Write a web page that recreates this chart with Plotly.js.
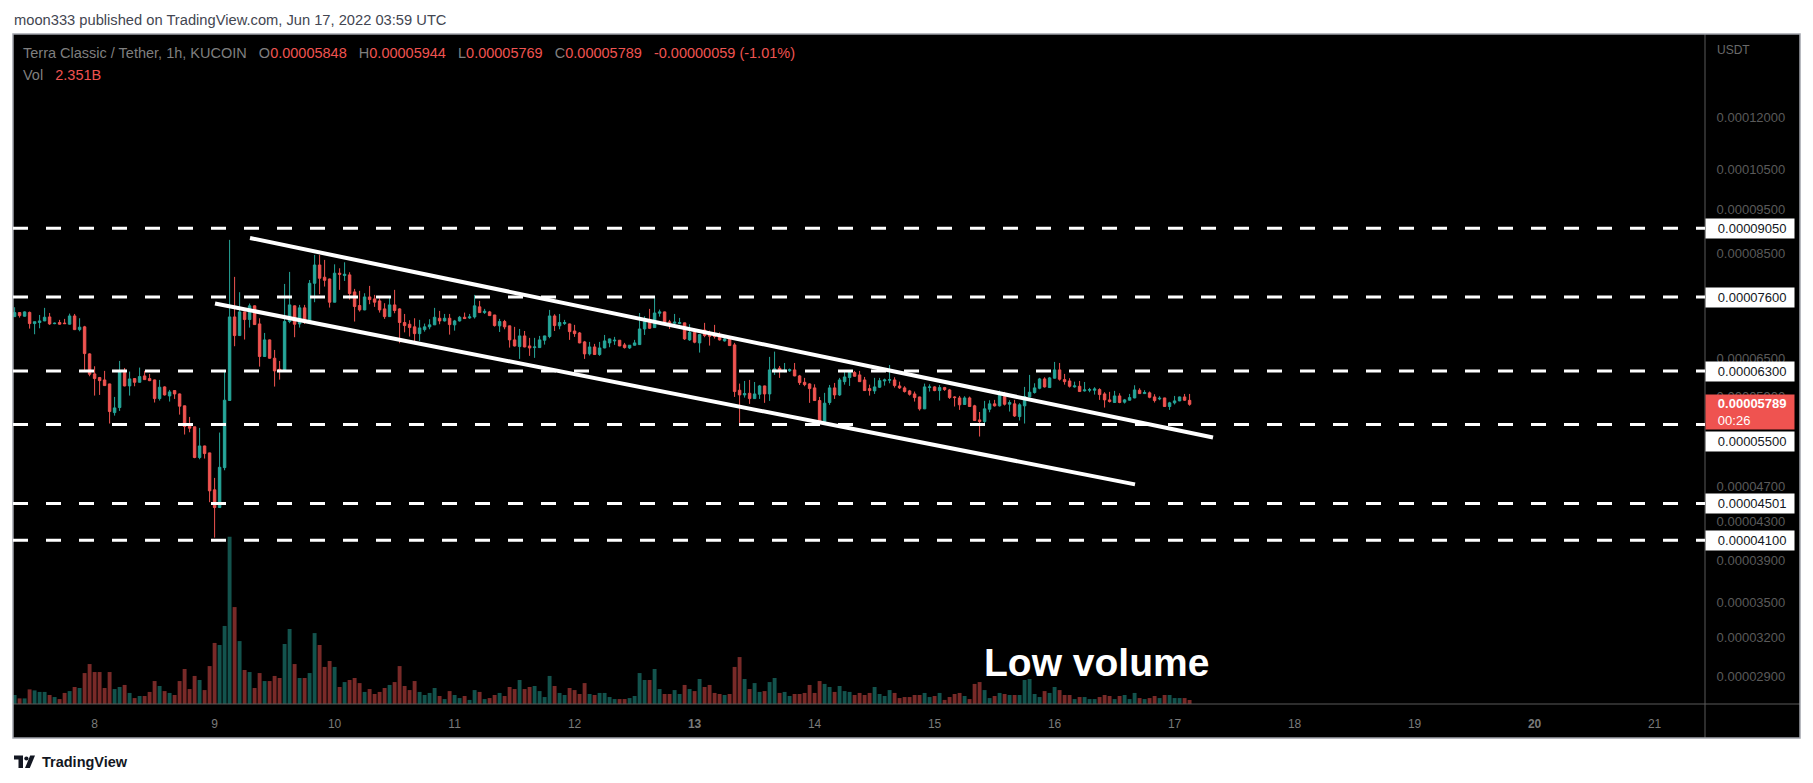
<!DOCTYPE html>
<html>
<head>
<meta charset="utf-8">
<script src="https://cdn.plot.ly/plotly-3.0.1.min.js"></script>
<style>
html,body{margin:0;padding:0;background:#ffffff;}
#chart{width:1813px;height:783px;}
</style>
</head>
<body>
<div id="chart"></div>
<script>
// ---------------- DATA (LUNC/USDT, KUCOIN, 1h candles) ----------------
// First hourly bar: 2022-06-07 08:00 UTC, last bar: 2022-06-17 03:00 UTC
const firstBarTime = '2022-06-07T08:00:00Z';
// Prices in units of 1e-8 USDT
const openE8 = [
7233,7307,7240,7310,7106,7125,7154,7227,7105,7125,
7115,7095,7245,6998,7047,6580,6254,6196,6159,6097,
5669,5742,6275,6066,6180,6122,6222,6180,6159,5874,
6051,5914,5995,5944,5767,5500,5468,5058,5209,5118,
4660,4455,4930,5846,7227,6893,7320,7179,7433,7100,
6536,6818,6508,6328,6307,7143,7433,7100,7395,7143,
7871,8245,7993,7958,7502,8075,8027,8041,7701,7439,
7357,7603,7565,7527,7376,7233,7451,7376,7125,7094,
7047,6927,6998,7047,7083,7203,7154,7203,7083,7154,
7221,7209,7227,7414,7307,7320,7263,7065,7143,7065,
6818,6703,6887,6714,6686,6686,6812,6876,7245,7065,
7106,7100,6974,6939,6783,6580,6697,6569,6680,6766,
6800,6812,6732,6680,6726,6737,7010,7143,7034,7295,
7320,7137,7113,7106,7119,6818,6950,6766,6991,6922,
6893,6876,6800,6830,6732,6000,5929,5954,5874,5939,
6066,5944,6312,6344,6297,6302,6318,6222,6122,6097,
6036,5845,5542,5816,6036,5929,6132,6196,6275,6238,
6159,6025,5990,6046,6143,6155,6159,6066,6036,5990,
5944,5899,5723,6041,6051,5995,6041,6005,5899,5884,
5787,5884,5767,5565,5542,5718,5796,5767,5904,5791,
5796,5612,5767,5899,5965,6030,6175,6041,6186,6318,
6164,6143,6051,6061,5990,6000,6000,6010,5944,5855,
5816,5914,5821,5850,5884,6000,5949,5960,5899,5869,
5884,5757,5811,5840,5899,5848];
const highE8 = [
7407,7310,7330,7326,7140,7263,7395,7300,7125,7173,
7191,7288,7282,7203,7065,6590,6376,6206,6302,6100,
5899,6463,6349,6291,6185,6355,6302,6254,6165,6159,
6060,6005,6000,5950,5770,5607,5470,5453,5212,5120,
4803,5389,6318,8788,8000,7695,7325,7477,7440,7203,
6939,6825,6646,6463,7858,8102,7440,7451,7451,7937,
8459,8459,8352,7965,8259,8177,8302,8095,7760,7721,
7675,7819,7643,7577,7483,7623,7741,7388,7282,7167,
7203,7173,7106,7185,7395,7338,7282,7282,7173,7245,
7307,7282,7643,7527,7376,7338,7265,7191,7173,7068,
7047,7010,6974,6853,6853,6887,6890,7357,7276,7282,
7173,7105,7083,6956,6800,6783,6749,6783,6904,6840,
6870,6815,6766,6730,6818,7300,7239,7376,7603,7364,
7325,7173,7282,7209,7122,7094,7016,6912,7119,6980,
7083,6950,6870,6876,6766,6102,6143,6159,6127,6081,
6070,6530,6618,6381,6430,6339,6430,6238,6191,6107,
6091,5899,5960,6081,6112,6191,6302,6302,6302,6302,
6206,6086,6191,6191,6180,6397,6201,6132,6061,6005,
5980,5902,6102,6091,6061,6081,6051,6020,5909,5914,
5909,5904,5782,5678,5840,5850,5855,5995,5975,5850,
5855,5806,6051,6238,6107,6191,6201,6206,6447,6430,
6254,6186,6132,6143,6127,6036,6046,6030,5970,5975,
5990,5954,5869,5944,6076,6030,6000,5980,5939,5909,
5886,5826,5914,5904,5944,5944];
const lowE8 = [
7225,7215,7233,7016,6916,7022,7150,7083,7095,7090,
7098,7090,6990,6968,6318,6217,5919,5929,6065,5514,
5626,5693,6060,5919,6061,6120,6160,6140,5816,5845,
5920,5830,5869,5640,5362,5393,5049,5036,5045,4516,
4128,4450,4897,5840,6709,6890,6824,7034,7085,6371,
6530,6500,6056,6164,6300,7113,6864,7034,7100,7131,
7502,7656,7806,7401,7500,7741,7918,7552,7143,7326,
7350,7464,7414,7307,7191,7230,7295,6760,6950,6876,
6755,6800,6962,7004,7080,7094,7143,6910,6980,7143,
7191,7191,7197,7305,7282,7245,7052,6956,7004,6686,
6705,6497,6691,6547,6514,6680,6737,6847,6974,7004,
7083,6818,6870,6760,6497,6553,6565,6547,6675,6692,
6732,6710,6669,6663,6720,6732,6904,7010,7030,7233,
7128,7010,7083,7094,6818,6800,6760,6602,6864,6720,
6841,6806,6789,6718,5899,5523,5889,5796,5870,5869,
5811,5840,6238,6191,6280,6286,6217,6081,6061,5811,
5840,5505,5540,5782,5869,5914,6086,6066,6210,6130,
5990,5919,5944,6036,6071,6107,6041,6020,5965,5919,
5830,5698,5720,5980,5985,5845,5990,5869,5757,5708,
5782,5750,5553,5335,5519,5674,5757,5757,5772,5684,
5607,5556,5514,5895,5949,6015,6041,6036,6180,6148,
6086,6041,6041,5978,5980,5970,5934,5855,5742,5816,
5811,5806,5801,5845,5879,5944,5945,5879,5816,5850,
5755,5708,5787,5835,5840,5769];
const closeE8 = [
7307,7251,7320,7106,7140,7154,7221,7100,7112,7095,
7105,7245,6998,7041,6585,6249,6180,6148,6071,5684,
5737,6286,6066,6175,6122,6212,6164,6148,5874,6046,
5929,5975,5944,5762,5472,5449,5058,5209,5109,4648,
4455,4934,5850,7227,6893,7320,7179,7433,7088,6536,
6818,6508,6302,6302,7143,7451,7094,7395,7143,7871,
8245,7972,7931,7502,8075,8054,8054,7669,7420,7357,
7603,7552,7502,7357,7233,7451,7345,7125,7070,7034,
6927,7028,7047,7083,7221,7154,7203,7088,7154,7221,
7197,7227,7433,7307,7332,7251,7070,7143,7047,6818,
6714,6887,6697,6680,6697,6818,6887,7245,7070,7125,
7125,6962,6927,6766,6580,6697,6569,6680,6800,6835,
6812,6714,6686,6726,6766,7010,7143,7022,7300,7320,
7131,7125,7131,7125,6835,6950,6778,6910,6893,6881,
6876,6818,6835,6720,5980,5929,5949,5874,5944,6066,
5944,6318,6334,6302,6312,6323,6222,6117,6086,6025,
5845,5542,5806,6036,5929,6159,6206,6286,6217,6132,
5995,5995,6051,6148,6159,6163,6071,6036,5980,5939,
5889,5723,6051,6051,5995,6041,6010,5889,5889,5782,
5884,5757,5556,5542,5723,5796,5767,5934,5791,5816,
5621,5782,5904,5970,6036,6175,6051,6191,6318,6170,
6132,6061,6066,5980,6005,6010,6020,5934,5855,5830,
5914,5816,5855,5889,6005,5949,5965,5894,5845,5879,
5757,5811,5840,5899,5850,5789];
// Volume in billions of LUNC
const volumeB = [
5.3,3.3,3.3,8.6,8.0,7.1,7.1,5.3,4.1,2.9,
6.5,7.6,10.0,9.4,18.2,23.5,18.8,18.8,9.4,18.8,
8.8,10.0,11.2,6.5,3.5,4.7,4.7,7.1,13.5,10.6,
7.6,6.5,5.3,13.5,20.6,8.8,16.5,14.1,8.2,22.3,
35.9,34.7,45.9,98.4,57.0,37.0,20.0,18.8,9.4,18.2,
13.5,13.5,16.5,15.3,35.3,44.1,23.5,15.3,15.3,18.2,
41.7,34.7,21.8,25.3,21.8,10.0,12.9,14.1,15.3,12.3,
7.1,8.8,5.9,7.1,9.4,11.2,12.9,22.3,10.6,8.2,
13.5,7.1,5.3,6.5,9.4,4.7,2.9,7.6,5.3,3.5,
4.7,2.4,8.2,7.1,2.9,3.5,5.3,6.5,4.7,10.0,
8.8,14.1,8.8,10.0,10.6,7.6,4.1,16.5,10.6,6.5,
5.3,9.4,8.2,5.9,12.3,5.9,5.3,6.5,6.5,4.1,
2.9,2.9,2.9,3.5,4.7,18.2,14.1,14.1,20.6,8.8,
5.9,5.9,8.2,5.9,11.2,8.8,7.6,14.7,10.0,11.2,
6.5,5.9,5.3,5.9,21.8,27.6,14.7,8.8,12.3,7.1,
7.6,12.9,15.3,6.5,7.1,4.7,5.9,5.9,6.5,11.2,
6.5,13.5,11.8,10.0,7.1,10.6,7.6,7.1,5.3,6.5,
5.3,6.5,10.0,5.9,4.7,8.2,6.5,3.5,4.1,4.1,
5.3,5.3,6.5,4.1,4.7,6.5,2.4,4.1,5.9,6.5,
4.7,2.9,11.8,12.9,8.2,3.5,4.7,6.5,5.9,5.3,
5.3,5.3,14.1,14.7,5.9,4.1,7.6,6.5,10.0,8.2,
5.3,5.3,2.9,4.1,4.1,2.9,2.9,4.1,5.3,4.7,
2.9,4.7,5.3,2.9,6.5,3.5,2.9,3.5,4.7,3.5,
5.3,5.3,3.5,3.5,3.5,2.351];

const dayTickTimes = ['2022-06-08','2022-06-09','2022-06-10','2022-06-11','2022-06-12','2022-06-13','2022-06-14',
                      '2022-06-15','2022-06-16','2022-06-17','2022-06-18','2022-06-19','2022-06-20','2022-06-21'];
const dayTickLabels = ['8','9','10','11','12','<b>13</b>','14','15','16','17','18','19','<b>20</b>','21'];
const priceTickValuesE8 = [12000,10500,9500,8500,6500,5900,4700,4300,3900,3500,3200,2900];
// Horizontal levels drawn on the chart
const levelValuesE8 = [9050,7600,6300,5500,4501,4100];
// Channel (trend) lines drawn by the author
const upperTrendTimes = ['2022-06-09 07:05','2022-06-17 07:41'];
const upperTrendPricesE8 = [8830,5322];
const lowerTrendTimes = ['2022-06-09 00:05','2022-06-16 16:05'];
const lowerTrendPricesE8 = [7478,4725];
const countdownText = '00:26';

// ---------------- RENDER ----------------
const E8 = 1e-8;
const toReal = arr => arr.map(v => v * E8);
const t0 = Date.parse(firstBarTime);
const times = openE8.map((_, i) => new Date(t0 + i * 3600000).toISOString().slice(0, 16).replace('T', ' '));

const GREEN = '#26a69a', RED = '#ef5350';
const FONT = 'Liberation Sans, Arial, sans-serif';

const W = 1813, H = 783;
const M = {l: 13, r: 13, t: 34, b: 45};
const PW = W - M.l - M.r, PH = H - M.t - M.b;
const px = x => (x - M.l) / PW;
const py = y => (H - M.b - y) / PH;
const xDomEnd = px(1705);
const yDomStart = py(704);

const volColors = openE8.map((o, i) => closeE8[i] >= o ? 'rgba(38,166,154,0.5)' : 'rgba(239,83,80,0.5)');

const traces = [
  {type: 'bar', x: times, y: volumeB, yaxis: 'y2', xaxis: 'x',
   marker: {color: volColors, line: {width: 0}}, hoverinfo: 'skip', showlegend: false},
  {type: 'candlestick', x: times, open: toReal(openE8), high: toReal(highE8), low: toReal(lowE8), close: toReal(closeE8),
   xaxis: 'x', yaxis: 'y', whiskerwidth: 0,
   increasing: {line: {color: GREEN, width: 1}, fillcolor: GREEN},
   decreasing: {line: {color: RED, width: 1}, fillcolor: RED},
   hoverinfo: 'skip', showlegend: false},
  {type: 'scatter', mode: 'lines', x: upperTrendTimes, y: toReal(upperTrendPricesE8), xaxis: 'x', yaxis: 'y',
   line: {color: '#ffffff', width: 4}, hoverinfo: 'skip', showlegend: false},
  {type: 'scatter', mode: 'lines', x: lowerTrendTimes, y: toReal(lowerTrendPricesE8), xaxis: 'x', yaxis: 'y',
   line: {color: '#ffffff', width: 4}, hoverinfo: 'skip', showlegend: false}
];

const shapes = [
  {type: 'rect', xref: 'paper', yref: 'paper', x0: 0, x1: 1, y0: 0, y1: 1, fillcolor: '#000000', line: {width: 0}, layer: 'below'},
  {type: 'line', xref: 'paper', yref: 'paper', x0: xDomEnd, x1: xDomEnd, y0: 0, y1: 1, line: {color: '#5a5a5a', width: 1}},
  {type: 'line', xref: 'paper', yref: 'paper', x0: 0, x1: 1, y0: yDomStart, y1: yDomStart, line: {color: '#5a5a5a', width: 1}},
  {type: 'rect', xref: 'paper', yref: 'paper', x0: 0, x1: 1, y0: 0, y1: 1, line: {color: '#a0a3ab', width: 1.5}}
];
// dashed horizontal levels (shape positions on a log axis are given as data values)
levelValuesE8.forEach(v => {
  shapes.push({type: 'line', xref: 'paper', yref: 'y', x0: 0, x1: xDomEnd, y0: v * E8, y1: v * E8,
               line: {color: '#ffffff', width: 3, dash: '15px,18px'}, layer: 'above'});
});
// TradingView logo mark
const logoColor = '#131722';
shapes.push({type: 'path', xref: 'paper', yref: 'paper', fillcolor: logoColor, line: {width: 0},
  path: `M ${px(14)} ${py(755.5)} L ${px(23)} ${py(755.5)} L ${px(23)} ${py(768)} L ${px(18.5)} ${py(768)} L ${px(18.5)} ${py(759.5)} L ${px(14)} ${py(759.5)} Z`});
shapes.push({type: 'circle', xref: 'paper', yref: 'paper', fillcolor: logoColor, line: {width: 0},
  x0: px(24.3), x1: px(28.5), y0: py(760.6), y1: py(756.4)});
shapes.push({type: 'path', xref: 'paper', yref: 'paper', fillcolor: logoColor, line: {width: 0},
  path: `M ${px(25)} ${py(768)} L ${px(29.8)} ${py(768)} L ${px(35)} ${py(755.5)} L ${px(30.2)} ${py(755.5)} Z`});

const last = openE8.length - 1;
const fmt = v => (v * E8).toFixed(8);
const chg = closeE8[last] - openE8[last];
const chgPct = chg / openE8[last] * 100;
const redSpan = t => `<span style="color:${RED}">${t}</span>`;
const sp = '\u00a0\u00a0\u00a0';
const headerText = 'Terra Classic / Tether, 1h, KUCOIN' + sp +
  'O' + redSpan(fmt(openE8[last])) + sp +
  'H' + redSpan(fmt(highE8[last])) + sp +
  'L' + redSpan(fmt(lowE8[last])) + sp +
  'C' + redSpan(fmt(closeE8[last])) + sp +
  redSpan((chg < 0 ? '-' : '+') + fmt(Math.abs(chg)) + ' (' + (chgPct < 0 ? '-' : '+') + Math.abs(chgPct).toFixed(2) + '%)');

const annotations = [
  {xref: 'paper', yref: 'paper', x: px(12), y: py(20), xanchor: 'left', yanchor: 'middle', showarrow: false,
   text: 'moon333 published on TradingView.com, Jun 17, 2022 03:59 UTC', font: {family: FONT, size: 14.7, color: '#434651'}},
  {xref: 'paper', yref: 'paper', x: px(21), y: py(53), xanchor: 'left', yanchor: 'middle', showarrow: false,
   text: headerText, font: {family: FONT, size: 14.5, color: '#7f7f7f'}},
  {xref: 'paper', yref: 'paper', x: px(21), y: py(75), xanchor: 'left', yanchor: 'middle', showarrow: false,
   text: 'Vol' + sp + redSpan(volumeB[last].toFixed(3) + 'B'), font: {family: FONT, size: 14.5, color: '#7f7f7f'}},
  {xref: 'paper', yref: 'paper', x: px(1715), y: py(50), xanchor: 'left', yanchor: 'middle', showarrow: false,
   text: 'USDT', font: {family: FONT, size: 12, color: '#6a6a6a'}},
  {xref: 'paper', yref: 'paper', x: px(982), y: py(662), xanchor: 'left', yanchor: 'middle', showarrow: false,
   text: '<b>Low volume</b>', font: {family: FONT, size: 39, color: '#ffffff'}},
  {xref: 'paper', yref: 'paper', x: px(40), y: py(762), xanchor: 'left', yanchor: 'middle', showarrow: false,
   text: '<b>TradingView</b>', font: {family: FONT, size: 14.5, color: logoColor}}
];
levelValuesE8.forEach(v => {
  annotations.push({xref: 'paper', yref: 'y', x: xDomEnd, y: Math.log10(v * E8), xanchor: 'left', yanchor: 'middle',
    yshift: v === 5500 ? -17 : 0, showarrow: false, align: 'left', width: 86, height: 17, borderpad: 1,
    bgcolor: '#ffffff', text: '\u00a0\u00a0\u00a0' + fmt(v), font: {family: FONT, size: 13, color: '#131722'}});
});
annotations.push({xref: 'paper', yref: 'y', x: xDomEnd, y: Math.log10(closeE8[last] * E8), xanchor: 'left', yanchor: 'middle',
  yshift: -8, showarrow: false, align: 'left', width: 86, height: 32, borderpad: 1, bgcolor: RED,
  text: '\u00a0\u00a0\u00a0<b>' + fmt(closeE8[last]) + '</b><br>\u00a0\u00a0\u00a0' + countdownText,
  font: {family: FONT, size: 13, color: '#ffffff'}});

const layout = {
  width: W, height: H,
  margin: {l: M.l, r: M.r, t: M.t, b: M.b, pad: 0},
  paper_bgcolor: '#ffffff', plot_bgcolor: '#000000',
  showlegend: false, bargap: 0.22, dragmode: false,
  xaxis: {domain: [0, xDomEnd], type: 'date', range: ['2022-06-07 07:40:48', '2022-06-21 10:05:00'],
          tickvals: dayTickTimes, ticktext: dayTickLabels, tickfont: {family: FONT, size: 12, color: '#7a7a7a'},
          ticks: 'outside', ticklen: 9, tickcolor: 'rgba(0,0,0,0)', showgrid: false, zeroline: false, showline: false,
          rangeslider: {visible: false}, fixedrange: true},
  yaxis: {domain: [yDomStart, 1], type: 'log', side: 'right', range: [-4.5677, -3.82918],
          tickvals: toReal(priceTickValuesE8), ticktext: priceTickValuesE8.map(fmt),
          tickfont: {family: FONT, size: 13, color: '#5a5a5a'},
          ticks: 'outside', ticklen: 8, tickcolor: 'rgba(0,0,0,0)', showgrid: false, zeroline: false, showline: false, fixedrange: true},
  yaxis2: {overlaying: 'y', range: [0, 394], visible: false, fixedrange: true},
  shapes: shapes,
  annotations: annotations
};

Plotly.newPlot('chart', traces, layout, {staticPlot: true, displayModeBar: false});
</script>
</body>
</html>
